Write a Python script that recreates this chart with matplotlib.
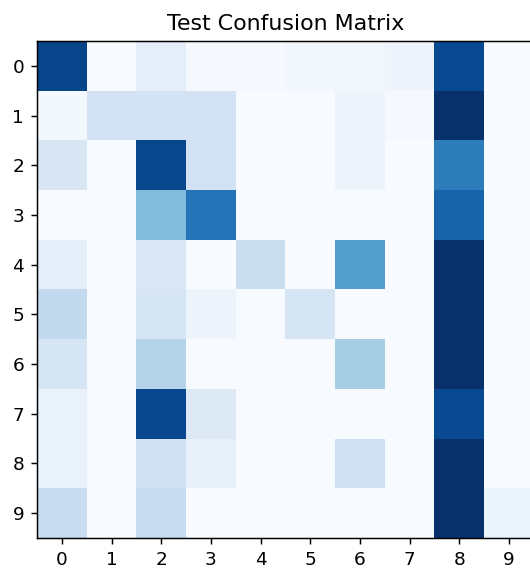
import numpy as np
import matplotlib
matplotlib.use("Agg")
import matplotlib.pyplot as plt

classes = [str(i) for i in range(10)]

# approximate counts (max = 100)
row0 = [92, 0, 10, 1, 1, 3, 3, 5, 90, 0]
row1 = [2, 18, 18, 18, 0, 0, 5, 1, 100, 0]
row2 = [15, 0, 91, 19, 0, 0, 5, 0, 70, 0]
row3 = [0, 0, 44, 74, 0, 0, 0, 0, 80, 0]
row4 = [10, 0, 14, 0, 22, 0, 57, 0, 100, 0]
row5 = [26, 0, 17, 5, 0, 17, 0, 0, 100, 0]
row6 = [17, 0, 30, 0, 0, 0, 35, 0, 100, 0]
row7 = [7, 0, 91, 13, 0, 0, 0, 0, 90, 0]
row8 = [7, 0, 20, 8, 0, 0, 20, 0, 100, 0]
row9 = [23, 0, 24, 0, 0, 0, 0, 0, 100, 6]

cm = np.array([row0, row1, row2, row3, row4, row5, row6, row7, row8, row9])

dpi = 133
fig = plt.figure(figsize=(530 / dpi, 569 / dpi), dpi=dpi)
ax = fig.add_axes([37 / 530, 31 / 569, 497 / 530, 497 / 569])
ax.imshow(cm, interpolation="nearest", cmap=plt.cm.Blues, aspect="auto")
ax.set_title("Test Confusion Matrix")
ax.set_xticks(np.arange(len(classes)))
ax.set_xticklabels(classes)
ax.set_yticks(np.arange(len(classes)))
ax.set_yticklabels(classes)

fig.savefig("out.png", dpi=dpi)
